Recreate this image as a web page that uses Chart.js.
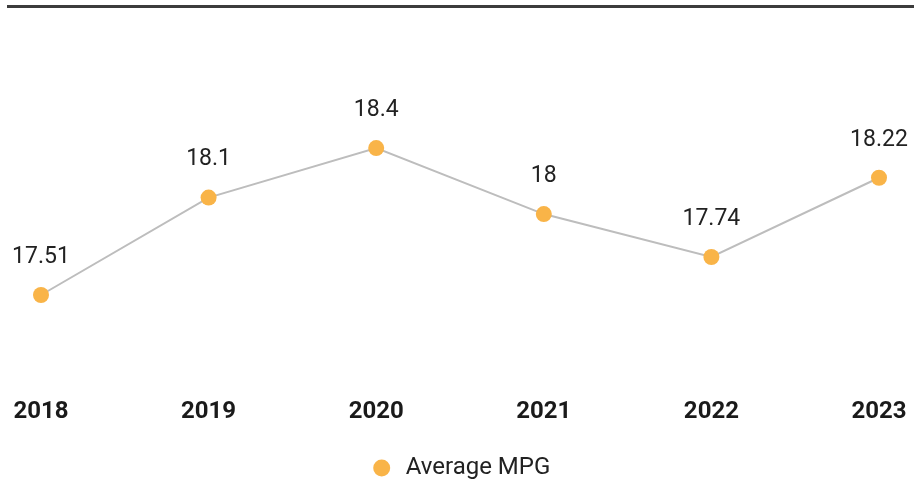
<!DOCTYPE html>
<html>
<head>
<meta charset="utf-8">
<script src="https://cdn.jsdelivr.net/npm/chart.js@4/dist/chart.umd.min.js"></script>
<style>
  html, body { margin: 0; padding: 0; background: #fff; }
  #wrap { position: relative; width: 914px; height: 481px; }
</style>
</head>
<body>
<div id="wrap"><canvas id="mpg"></canvas></div>
<script>
const years = ['2018', '2019', '2020', '2021', '2022', '2023']
const avgMpg = [17.51, 18.1, 18.4, 18, 17.74, 18.22]
const seriesName = 'Average MPG'

const dotColor = '#f9b448'

// dark rule across the top of the card
const topRule = {
  id: 'topRule',
  beforeDraw(chart) {
    const ctx = chart.ctx
    ctx.save()
    ctx.fillStyle = '#3c3c3c'
    ctx.fillRect(7, 5, chart.width - 7, 3)
    ctx.restore()
  }
}

// value printed above each point
const pointValues = {
  id: 'pointValues',
  afterDatasetsDraw(chart) {
    const ctx = chart.ctx
    const meta = chart.getDatasetMeta(0)
    ctx.save()
    ctx.font = '23px Roboto'
    ctx.fillStyle = '#222'
    ctx.textAlign = 'center'
    ctx.textBaseline = 'middle'
    meta.data.forEach((pt, i) => {
      ctx.fillText(String(avgMpg[i]), pt.x, pt.y - 38)
    })
    ctx.restore()
  }
}

new Chart(document.getElementById('mpg'), {
  type: 'line',
  data: {
    labels: years,
    datasets: [{
      label: seriesName,
      data: avgMpg,
      borderColor: '#bdbdbd',
      borderWidth: 2,
      backgroundColor: dotColor,
      pointBackgroundColor: dotColor,
      pointBorderColor: dotColor,
      pointBorderWidth: 0,
      pointRadius: 8,
      pointHoverRadius: 8,
      tension: 0
    }]
  },
  options: {
    responsive: true,
    maintainAspectRatio: false,
    animation: false,
    layout: { padding: { left: 41, right: 35, top: 82, bottom: -9 } },
    plugins: {
      tooltip: { enabled: false },
      legend: {
        position: 'bottom',
        labels: {
          usePointStyle: true,
          pointStyle: 'circle',
          boxHeight: 12,
          padding: 0,
          color: '#222',
          font: { family: 'Roboto', size: 24 }
        }
      }
    },
    scales: {
      x: {
        offset: false,
        // invisible tick marks push the year labels down without widening the sides
        grid: { display: true, drawOnChartArea: false, drawTicks: true, tickLength: 18, tickColor: 'rgba(0,0,0,0)' },
        border: { display: false },
        ticks: {
          padding: 0,
          color: '#1a1a1a',
          font: { family: 'Roboto', size: 24, weight: 'bold' }
        },
        afterFit(scale) { scale.height += 30 }
      },
      y: {
        display: false,
        min: 17.0,
        max: 18.8
      }
    }
  },
  plugins: [topRule, pointValues]
})
</script>
</body>
</html>
